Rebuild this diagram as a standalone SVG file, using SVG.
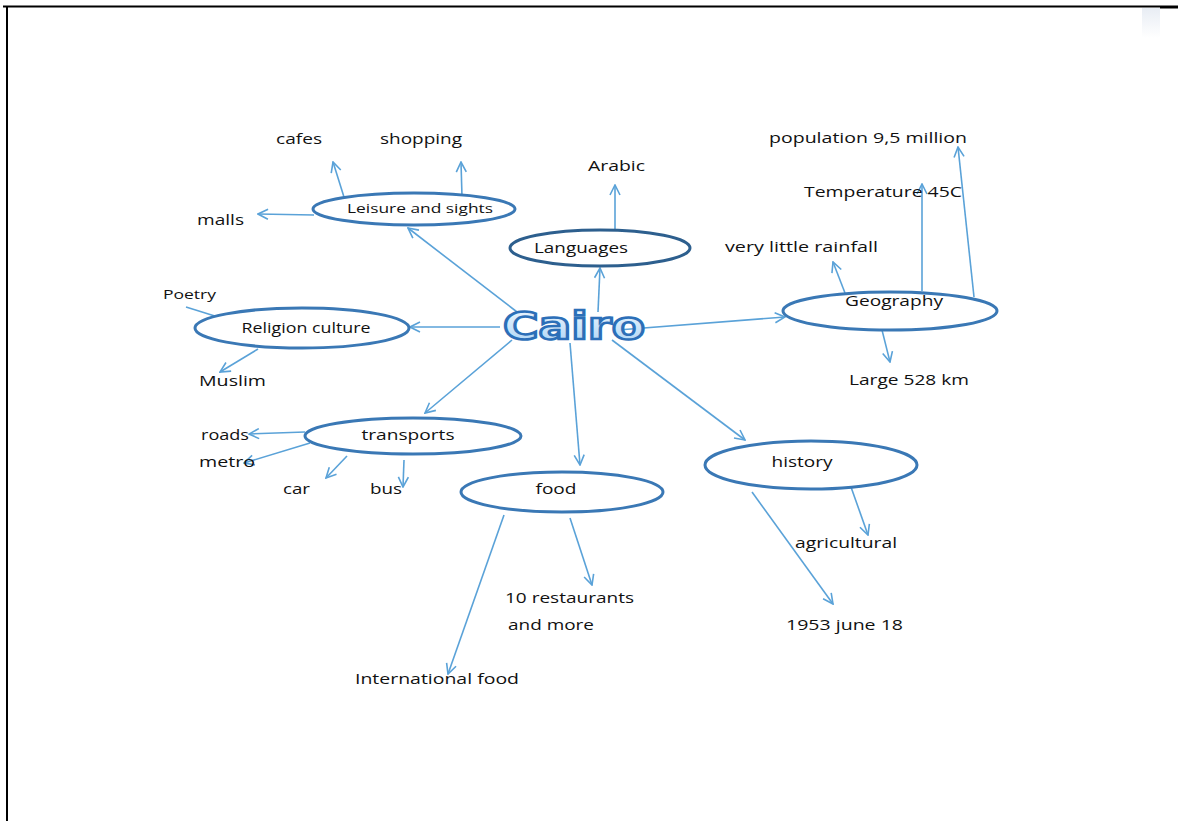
<svg xmlns="http://www.w3.org/2000/svg" width="1178" height="821" viewBox="0 0 1178 821">
<style>
  .t { font-family: "Open Sans", "Liberation Sans", sans-serif; font-size: 14px; fill: #111; }
  .s { font-size: 13px; }
  .node ellipse { fill: #fff; stroke: #3a78b5; stroke-width: 3; }
  .con path { fill: none; stroke: #5aa2d8; stroke-width: 1.6; marker-end: url(#ah); }
  .con path.plain { marker-end: none; }
</style>
<defs>
  <marker id="ah" viewBox="0 0 12 12" refX="11" refY="6" markerWidth="12" markerHeight="12" markerUnits="userSpaceOnUse" orient="auto">
    <path d="M1,1 L11,6 L1,11" fill="none" stroke="#5aa2d8" stroke-width="1.6"/>
  </marker>
  <linearGradient id="cg" x1="0" y1="0" x2="0" y2="1">
    <stop offset="0" stop-color="#f2f9ff"/>
    <stop offset="1" stop-color="#a8d2f4"/>
  </linearGradient>
  <linearGradient id="fade" x1="0" y1="0" x2="0" y2="1">
    <stop offset="0" stop-color="#e8edf4"/>
    <stop offset="1" stop-color="#ffffff"/>
  </linearGradient>
</defs>
<rect width="1178" height="821" fill="#fff"/>
<rect x="1142" y="8" width="18" height="30" fill="url(#fade)"/>
<path d="M3,6.5 H1160" stroke="#000" stroke-width="2"/>
<path d="M1160,7 H1178" stroke="#000" stroke-width="3"/>
<path d="M7,6 V821" stroke="#000" stroke-width="2"/>

<g class="con">
  <path d="M517,312 L408,228"/>
  <path d="M344,197 L333,162"/>
  <path d="M462,197 L461,162"/>
  <path d="M314,215 L258,214"/>
  <path d="M598,312 L600,268"/>
  <path d="M615,230 L615,185"/>
  <path d="M618,330 L785,317"/>
  <path d="M845,293 L833,262"/>
  <path d="M922,291 L922,184"/>
  <path d="M974,297 L958,147"/>
  <path d="M882,330 L890,362"/>
  <path d="M500,327 L410,327"/>
  <path class="plain" d="M186,307 L218,317"/>
  <path d="M258,349 L220,372"/>
  <path d="M512,340 L425,413"/>
  <path d="M305,432 L249,434"/>
  <path d="M310,443 L244,463"/>
  <path d="M347,456 L326,478"/>
  <path d="M404,460 L403,487"/>
  <path d="M570,343 L580,465"/>
  <path d="M570,518 L592,585"/>
  <path d="M504,515 L448,674"/>
  <path d="M612,340 L745,440"/>
  <path d="M851,487 L868,535"/>
  <path d="M752,492 L833,604"/>
</g>

<g id="cairo">
  <text x="574" y="339" text-anchor="middle" font-family="'DejaVu Sans', 'Liberation Sans', sans-serif" font-weight="bold" font-size="37" fill="url(#cg)" stroke="#2c6fb8" stroke-width="2.5" textLength="142" lengthAdjust="spacingAndGlyphs">Cairo</text>
</g>

<g id="leisure" class="node">
  <ellipse cx="414" cy="209" rx="101" ry="16"/>
  <text class="t s" x="420" y="213" text-anchor="middle" textLength="146" lengthAdjust="spacingAndGlyphs">Leisure and sights</text>
</g>
<g id="languages" class="node">
  <ellipse cx="600" cy="248" rx="90" ry="18" style="stroke:#2d5f8e"/>
  <text class="t" x="581" y="253" text-anchor="middle" textLength="94" lengthAdjust="spacingAndGlyphs">Languages</text>
</g>
<g id="geography" class="node">
  <ellipse cx="890" cy="311" rx="107" ry="19"/>
  <text class="t" x="894" y="306" text-anchor="middle" textLength="98" lengthAdjust="spacingAndGlyphs">Geography</text>
</g>
<g id="religion" class="node">
  <ellipse cx="302" cy="328" rx="107" ry="20"/>
  <text class="t" x="306" y="333" text-anchor="middle" textLength="129" lengthAdjust="spacingAndGlyphs">Religion culture</text>
</g>
<g id="transports" class="node">
  <ellipse cx="413" cy="436" rx="108" ry="18"/>
  <text class="t" x="408" y="440" text-anchor="middle" textLength="93" lengthAdjust="spacingAndGlyphs">transports</text>
</g>
<g id="food" class="node">
  <ellipse cx="562" cy="492" rx="101" ry="20"/>
  <text class="t" x="556" y="494" text-anchor="middle" textLength="41" lengthAdjust="spacingAndGlyphs">food</text>
</g>
<g id="history" class="node">
  <ellipse cx="811" cy="465" rx="106" ry="24"/>
  <text class="t" x="802" y="467" text-anchor="middle" textLength="61" lengthAdjust="spacingAndGlyphs">history</text>
</g>

<g id="labels">
  <text class="t" x="276" y="144" textLength="46" lengthAdjust="spacingAndGlyphs">cafes</text>
  <text class="t" x="380" y="144" textLength="82" lengthAdjust="spacingAndGlyphs">shopping</text>
  <text class="t" x="588" y="171" textLength="57" lengthAdjust="spacingAndGlyphs">Arabic</text>
  <text class="t" x="769" y="143" textLength="198" lengthAdjust="spacingAndGlyphs">population 9,5 million</text>
  <text class="t" x="804" y="197" textLength="158" lengthAdjust="spacingAndGlyphs">Temperature 45C</text>
  <text class="t" x="725" y="252" textLength="153" lengthAdjust="spacingAndGlyphs">very little rainfall</text>
  <text class="t" x="197" y="225" textLength="47" lengthAdjust="spacingAndGlyphs">malls</text>
  <text class="t s" x="163" y="299" textLength="53" lengthAdjust="spacingAndGlyphs">Poetry</text>
  <text class="t" x="199" y="386" textLength="67" lengthAdjust="spacingAndGlyphs">Muslim</text>
  <text class="t" x="849" y="385" textLength="120" lengthAdjust="spacingAndGlyphs">Large 528 km</text>
  <text class="t" x="201" y="440" textLength="48" lengthAdjust="spacingAndGlyphs">roads</text>
  <text class="t" x="199" y="467" textLength="56" lengthAdjust="spacingAndGlyphs">metro</text>
  <text class="t" x="283" y="494" textLength="27" lengthAdjust="spacingAndGlyphs">car</text>
  <text class="t" x="370" y="494" textLength="32" lengthAdjust="spacingAndGlyphs">bus</text>
  <text class="t" x="795" y="548" textLength="102" lengthAdjust="spacingAndGlyphs">agricultural</text>
  <text class="t" x="505" y="603" textLength="129" lengthAdjust="spacingAndGlyphs">10 restaurants</text>
  <text class="t" x="508" y="630" textLength="86" lengthAdjust="spacingAndGlyphs">and more</text>
  <text class="t" x="786" y="630" textLength="117" lengthAdjust="spacingAndGlyphs">1953 june 18</text>
  <text class="t" x="355" y="684" textLength="164" lengthAdjust="spacingAndGlyphs">International food</text>
</g>
</svg>
